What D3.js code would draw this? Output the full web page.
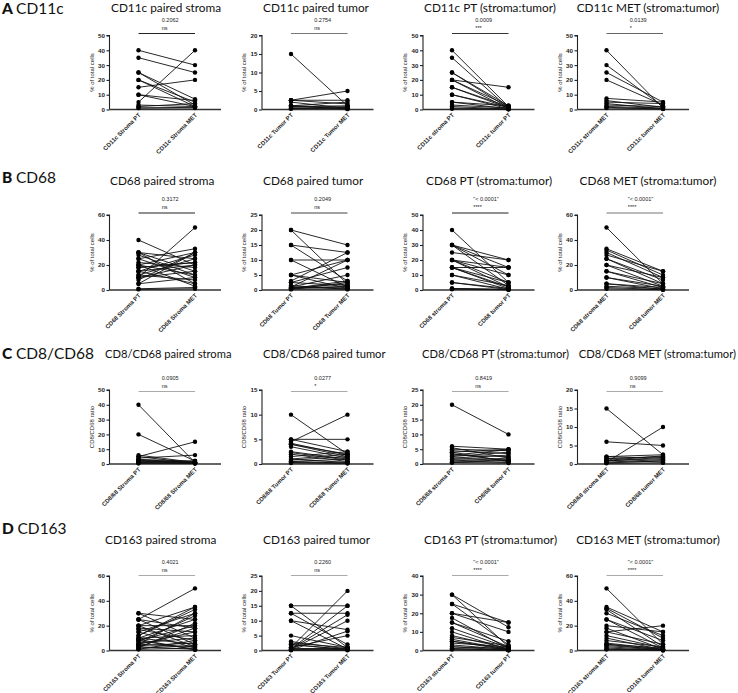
<!DOCTYPE html>
<html><head><meta charset="utf-8">
<script src="https://cdn.jsdelivr.net/npm/d3@7"></script>
<style>body{margin:0;background:#fff}svg{display:block}</style>
</head><body><svg id="c" width="738" height="693"></svg>
<script>
// ---------------- DATA ----------------
const rowLetters = ["A","B","C","D"];
const rowNames = ["CD11c","CD68","CD8/CD68","CD163"];
const titlesA = ["CD11c paired stroma","CD11c paired tumor","CD11c PT (stroma:tumor)","CD11c MET (stroma:tumor)"];
const titlesB = ["CD68 paired stroma","CD68 paired tumor","CD68 PT (stroma:tumor)","CD68 MET (stroma:tumor)"];
const titlesC = ["CD8/CD68 paired stroma","CD8/CD68 paired tumor","CD8/CD68 PT (stroma:tumor)","CD8/CD68 MET (stroma:tumor)"];
const titlesD = ["CD163 paired stroma","CD163 paired tumor","CD163 PT (stroma:tumor)","CD163 MET (stroma:tumor)"];
const yLabels = ["% of total cells","% of total cells","CD8/CD68 ratio","% of total cells"];

const catsA = [["CD11c Stroma PT","CD11c Stroma MET"],["CD11c Tumor PT","CD11c Tumor MET"],["CD11c stroma PT","CD11c tumor PT"],["CD11c stroma MET","CD11c tumor MET"]];
const catsB = [["CD68 Stroma PT","CD68 Stroma MET"],["CD68 Tumor PT","CD68 Tumor MET"],["CD68 stroma PT","CD68 tumor PT"],["CD68 stroma MET","CD68 tumor MET"]];
const catsC = [["CD8/68 Stroma PT","CD8/68 Stroma MET"],["CD8/68 Tumor PT","CD8/68 Tumor MET"],["CD8/68 stroma PT","CD8/68 tumor PT"],["CD8/68 stroma MET","CD8/68 tumor MET"]];
const catsD = [["CD163 Stroma PT","CD163 Stroma MET"],["CD163 Tumor PT","CD163 Tumor MET"],["CD163 stroma PT","CD163 tumor PT"],["CD163 stroma MET","CD163 tumor MET"]];

const pA = ["0.2062","0.2754","0.0009","0.0139"];
const sA = ["ns","ns","***","*"];
const pB = ["0.3172","0.2049","\"< 0.0001\"","\"< 0.0001\""];
const sB = ["ns","ns","****","****"];
const pC = ["0.0905","0.0277","0.8419","0.9099"];
const sC = ["ns","*","ns","ns"];
const pD = ["0.4021","0.2260","\"< 0.0001\"","\"< 0.0001\""];
const sD = ["ns","ns","****","****"];

const ticksA = [[0,10,20,30,40,50],[0,5,10,15,20],[0,10,20,30,40,50],[0,10,20,30,40,50]];
const ticksB = [[0,20,40,60],[0,5,10,15,20,25],[0,10,20,30,40,50],[0,20,40,60]];
const ticksC = [[0,10,20,30,40,50],[0,5,10,15],[0,5,10,15,20,25],[0,5,10,15,20]];
const ticksD = [[0,20,40,60],[0,5,10,15,20,25],[0,10,20,30,40],[0,20,40,60]];

// A: CD11c
const a1PT  = [40,35,5,15,25,25,20,20,10,10,2,1,3,1];
const a1MET = [30,25,40,20,7,3,5,2,6,2,4,1.5,2,1];
const a2PT  = [15,2.5,2.5,2.5,1,1,0.8,0.5,0.3,0.2,1,2];
const a2MET = [1,5,2.5,1.5,2,0.5,1,0.3,0.2,0.8,0.1,0.3];
const a3Stroma = [40,35,25,25,20,20,20,15,15,10,10,5,5,3,2,1,0.5];
const a3Tumor  = [2,1,2.5,1,15,2.5,0.5,2,1,0.5,1.5,2.5,0.5,1,0.3,0.2,0.1];
const a4Stroma = [40,30,25,20,7.5,6,5,4,3,2,1.5,1];
const a4Tumor  = [1,2,5,3,5,1.5,4,0.5,2,1,0.3,0.5];
// B: CD68
const b1PT  = [40,30,30,30,25,25,20,20,20,18,15,15,15,12,10,10,10,8,5,5,1,22,28,12,18,0.5];
const b1MET = [20,15,25,5,33,10,30,12,3,22,28,20,5,25,50,15,20,30,30,10,2,18,12,8,22,1];
const b2PT  = [20,20,15,15,10,10,5,5,5,2.5,2.5,1,1,1,0.8,0.5,0.5,0.3,0.2,1.5,0.7,3];
const b2MET = [15,2,12.5,3,10,1,10,2.5,0.5,7.5,1.5,5,10,0.5,2,3,1,0.3,2.5,0.2,1.2,12.5];
const b3Stroma = [40,30,30,30,30,25,20,20,20,20,15,15,15,15,10,10,5,5,1,1,0.5];
const b3Tumor  = [5,20,15,10,3,20,15,5,2,10,15,5,1,2,3,0.5,1,0.3,0.5,0.2,0.1];
const b4Stroma = [50,33,32,30,28,25,25,20,20,15,15,10,10,5,5,3,2,1];
const b4Tumor  = [5,15,12,10,15,8,5,10,3,5,2,3,1,2,0.5,1,0.3,0.2];
// C: CD8/CD68
const c1PT  = [40,20,5,6,4,3,3,2,2,1.5,1,1,0.5,0.5,5,2.5];
const c1MET = [1,2,15,1,6,2,1,0.5,1.5,1,0.5,2,0.3,1,0.5,0.8];
const c2PT  = [10,5,4.5,5,4,4,3.5,2.5,2.3,2,1.5,1,1,0.8,0.5,0.5,0.3,0.2,4.2];
const c2MET = [2,5,10,2.5,2,1.5,1.2,1,0.8,0.5,2.5,2,0.3,1.5,0.2,1,0.4,0.1,1.8];
const c3Stroma = [20,6,5.5,5,4.5,4,3.5,3,2.5,2,2,1.5,1,1,0.5,0.5,3,4];
const c3Tumor  = [10,5,2,4.5,3.5,5,1,2.5,4,1.5,3,1,2,0.5,1.2,0.3,4.8,0.8];
const c4Stroma = [15,6,0.5,2,2,1.5,1.5,1,1,0.8,0.5,0.3,0.2];
const c4Tumor  = [2.5,5,10,2.5,1.5,2,1,2.2,0.5,1.8,1.2,0.8,0.3];
// D: CD163
const d1PT  = [30,30,25,25,25,20,20,20,18,17,15,15,12,10,10,10,8,8,7,6,5,5,5,4,3,3,2,2,1,1,9,12];
const d1MET = [10,25,50,5,18,35,3,20,15,8,30,2,33,25,12,5,20,1,28,10,15,3,30,6,18,1,22,4,8,2,0.5,35];
const d2PT  = [15,15,12.5,12.5,10,10,5,3,2.5,2,1,0.5,0.5,0.3,0.2,1,0.8,0.3,0.1,0.5,2];
const d2MET = [15,1,12.5,2,7,0.5,1,0.5,1,0.3,20,15,12,10,6.5,5,0.2,0.5,0.1,0.8,0.3];
const d3Stroma = [30,30,25,25,20,20,17.5,15,15,12,10,8,7,6,5,5,4,3,2,2,1,1,0.5];
const d3Tumor  = [12.5,2,15,3,15,10,1,5,2,1.5,0.5,1,2.5,0.5,1,0.3,2,0.5,0.2,1,0.3,0.1,0.2];
const d4Stroma = [50,35,34,33,30,25,25,20,18,15,15,12,10,8,6,5,5,4,3,2,1,1];
const d4Tumor  = [5,15,10,3,12,8,2,15,1,20,5,2,0.5,3,1,0.3,2,1,0.5,0.2,0.5,0.1];

const leftVals  = [[a1PT,a2PT,a3Stroma,a4Stroma],[b1PT,b2PT,b3Stroma,b4Stroma],[c1PT,c2PT,c3Stroma,c4Stroma],[d1PT,d2PT,d3Stroma,d4Stroma]];
const rightVals = [[a1MET,a2MET,a3Tumor,a4Tumor],[b1MET,b2MET,b3Tumor,b4Tumor],[c1MET,c2MET,c3Tumor,c4Tumor],[d1MET,d2MET,d3Tumor,d4Tumor]];
const titles = [titlesA,titlesB,titlesC,titlesD];
const cats = [catsA,catsB,catsC,catsD];
const pvals = [pA,pB,pC,pD];
const stars = [sA,sB,sC,sD];
const ticks = [ticksA,ticksB,ticksC,ticksD];

// ---------------- LAYOUT ----------------
const colP1 = [138.5, 291, 452, 606.5];
const pairGap = 56.5;
const axisOff = 29, axisExt = 26;
const rowTop = [35.5, 215, 390, 576];
const rowBot = [109.5, 290, 464, 650.5];
const barOff = [-2, -2, 1.5, -0.5];
const titleY = [12, 185, 357.5, 543.5];
const rowLabelY = [14, 183, 358.5, 533.5];
const titleX = [[111,263,424,648],[110,263,426,648],[105,263,422,736],[105,263,424,648]];
const titleAnchor = [["start","start","start","middle"],["start","start","start","middle"],["start","start","start","end"],["start","start","start","middle"]];
const titleSize = [11.8, 11.8, 11.2, 11.8];
const barColors = [["#222","#777","#333","#666"],["#222","#444","#222","#777"],["#aaa","#aaa","#aaa","#aaa"],["#aaa","#aaa","#aaa","#aaa"]];

const svg = d3.select("#c");
const smallFont = "'Liberation Sans', Arial, sans-serif";
const titleFont = "Lato, 'Open Sans', sans-serif";

for (let r = 0; r < 4; r++) {
  const lab = svg.append("text").attr("x", 2).attr("y", rowLabelY[r])
    .attr("font-family", titleFont).attr("font-size", 15.5).attr("fill", "#111");
  lab.append("tspan").attr("font-weight", "900").text(rowLetters[r] + " ");
  lab.append("tspan").text(rowNames[r]);

  for (let c = 0; c < 4; c++) {
    const x1 = colP1[c], x2 = colP1[c] + pairGap;
    const ax = x1 - axisOff, axEnd = x2 + axisExt;
    const tk = ticks[r][c];
    const y = d3.scaleLinear().domain([0, d3.max(tk)]).range([rowBot[r], rowTop[r]]);
    const x = d3.scalePoint().domain(cats[r][c]).range([x1, x2]);
    const g = svg.append("g");

    g.append("text").attr("x", titleX[r][c]).attr("y", titleY[r]).attr("text-anchor", titleAnchor[r][c])
      .attr("font-family", titleFont).attr("font-size", titleSize[r]).attr("fill", "#111").text(titles[r][c]);

    // y axis
    const yAx = g.append("g").attr("transform", `translate(${ax},0)`)
      .call(d3.axisLeft(y).tickValues(tk).tickSize(3).tickPadding(1.5).tickFormat(d3.format("d")));
    yAx.selectAll("path,line").attr("stroke", "#222").attr("stroke-width", 1.1);
    yAx.select(".domain").attr("d", `M-3,${y(d3.max(tk))}H0V${rowBot[r]}`);
    yAx.selectAll("text").attr("font-family", smallFont).attr("font-size", 6.2).attr("font-weight", "bold").attr("fill", "#222");

    // x axis line
    g.append("line").attr("x1", ax).attr("x2", axEnd).attr("y1", rowBot[r]).attr("y2", rowBot[r])
      .attr("stroke", "#333").attr("stroke-width", 1.3);
    // x labels (rotated)
    cats[r][c].forEach(k => {
      g.append("text").attr("transform", `translate(${x(k) + 2.5},${rowBot[r] + 6}) rotate(-45)`)
        .attr("text-anchor", "end").attr("font-family", smallFont).attr("font-size", 6)
        .attr("font-weight", "bold").attr("fill", "#222").text(k);
    });

    // y label
    g.append("text").attr("transform", `translate(${ax - 16},${(rowTop[r] + rowBot[r]) / 2}) rotate(-90)`)
      .attr("text-anchor", "middle").attr("font-family", smallFont).attr("font-size", 6)
      .attr("fill", "#222").text(yLabels[r]);

    // significance
    const by = rowTop[r] + barOff[r];
    const tx = (x1 + x2) / 2 - (pvals[r][c].startsWith("\"") ? 7 : 5);
    g.append("line").attr("x1", x1).attr("x2", x2).attr("y1", by).attr("y2", by)
      .attr("stroke", barColors[r][c]).attr("stroke-width", 1.1);
    g.append("text").attr("x", tx).attr("y", by - 12).attr("font-family", smallFont)
      .attr("font-size", 5.5).attr("fill", "#222").text(pvals[r][c]);
    g.append("text").attr("x", tx).attr("y", by - 4).attr("font-family", smallFont)
      .attr("font-size", 5.5).attr("fill", "#222").text(stars[r][c]);

    // paired lines and dots
    const L = leftVals[r][c], R = rightVals[r][c];
    const pairs = L.map((v, i) => [v, R[i]]);
    g.selectAll(".pl").data(pairs).enter().append("line")
      .attr("x1", x(cats[r][c][0])).attr("x2", x(cats[r][c][1]))
      .attr("y1", d => y(d[0])).attr("y2", d => y(d[1]))
      .attr("stroke", "#111").attr("stroke-width", 0.9);
    g.selectAll(".dl").data(L).enter().append("circle")
      .attr("cx", x(cats[r][c][0])).attr("cy", d => y(d)).attr("r", 2.2).attr("fill", "#000");
    g.selectAll(".dr").data(R).enter().append("circle")
      .attr("cx", x(cats[r][c][1])).attr("cy", d => y(d)).attr("r", 2.2).attr("fill", "#000");
  }
}
</script></body></html>
